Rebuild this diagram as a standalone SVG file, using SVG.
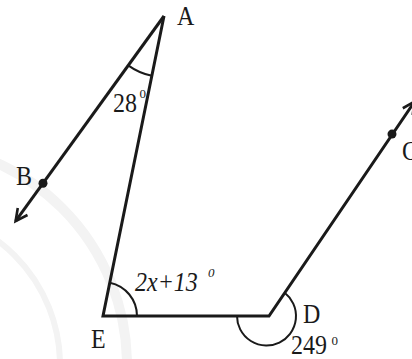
<svg xmlns="http://www.w3.org/2000/svg" width="412" height="359" viewBox="0 0 412 359">
<style>
  text { font-family: 'Liberation Serif', 'Times New Roman', 'DejaVu Serif', serif; fill: #1a1a1a; }
  .t { font-size: 24px; }
  .s { font-size: 13px; }
  .i { font-style: italic; }
  .ln { fill: none; stroke: #1a1a1a; stroke-width: 3; stroke-linejoin: miter; }
  .arc { fill: none; stroke: #1a1a1a; stroke-width: 2; }
  .wm { fill: none; stroke: #f3f3f3; }
  .dot { fill: #1a1a1a; }
</style>
<defs>
  <marker id="arr" markerUnits="userSpaceOnUse" markerWidth="20" markerHeight="20" refX="0" refY="0" viewBox="-15 -10 20 20" orient="auto" overflow="visible">
    <path d="M-12,-6 L0,0 L-12,6" fill="none" stroke="#1a1a1a" stroke-width="2.6" stroke-linejoin="miter"/>
  </marker>
</defs>
<rect width="412" height="359" fill="#ffffff"/>
<g id="watermark">
  <circle class="wm" cx="-95" cy="365" r="222" stroke-width="10"/>
  <circle class="wm" cx="-95" cy="365" r="155" stroke-width="6"/>
</g>
<g id="connectors">
  <path class="ln" d="M164,16 L15.6,221.2" marker-end="url(#arr)"/>
  <path class="ln" d="M164,16 L103,316 L269,316 L414.5,101.7" marker-end="url(#arr)"/>
</g>
<g id="angles">
  <path class="arc" d="M128.2,65.4 A61,61 0 0 0 151.8,75.8"/>
  <path class="arc" d="M137,316 A34,34 0 0 0 109.8,282.7"/>
  <path class="arc" d="M237,316 A29.5,29.5 0 1 0 284.7,292.8"/>
  <text class="t" font-family="Liberation Serif, serif" font-size="25" transform="translate(113,112) scale(1,1.12)">28</text>
  <text class="s" font-family="Liberation Serif, serif" x="139.5" y="98">0</text>
  <text class="t i" font-family="Liberation Serif, serif" font-size="25.5" transform="translate(135,291) scale(1,1.1)">2x+13</text>
  <text class="s i" font-family="Liberation Serif, serif" x="208" y="277">0</text>
  <text class="t" font-family="Liberation Serif, serif" transform="translate(291,354) scale(1,1.1)">249</text>
  <text class="s" font-family="Liberation Serif, serif" x="331.5" y="345">0</text>
</g>
<g id="A"><text class="t" font-family="Liberation Serif, serif" transform="translate(177,25) scale(1,1.12)">A</text></g>
<g id="B"><circle class="dot" cx="43" cy="183.3" r="4.5"/><text class="t" font-family="Liberation Serif, serif" transform="translate(16,185) scale(1,1.12)">B</text></g>
<g id="C"><circle class="dot" cx="392" cy="134.1" r="4.5"/><text class="t" font-family="Liberation Serif, serif" transform="translate(402,160) scale(1,1.12)">C</text></g>
<g id="D"><text class="t" font-family="Liberation Serif, serif" transform="translate(303,323) scale(1,1.12)">D</text></g>
<g id="E"><text class="t" font-family="Liberation Serif, serif" transform="translate(91,348) scale(1,1.12)">E</text></g>
</svg>
